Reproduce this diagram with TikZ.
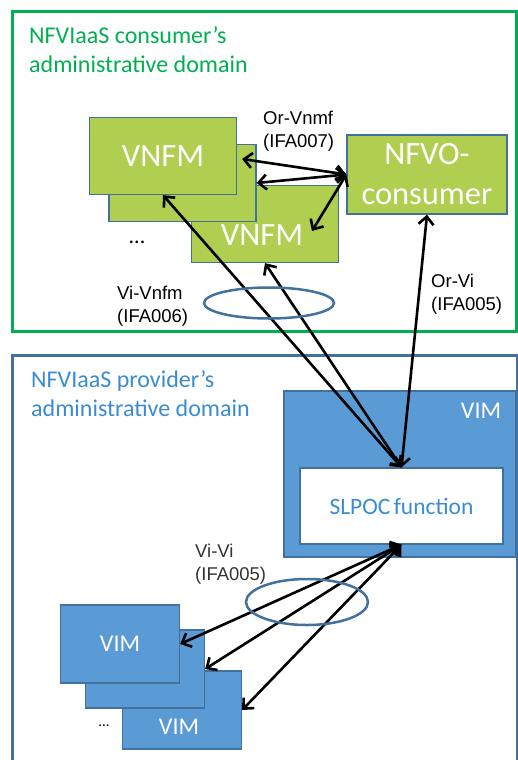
\documentclass[tikz,border=0pt]{standalone}
\usepackage{fontspec}
\setmainfont{Carlito}
\newfontfamily\ifacefont{Liberation Sans}
\usetikzlibrary{arrows.meta,calc,positioning}

\definecolor{consgreen}{RGB}{0,176,80}
\definecolor{vnfmfill}{RGB}{176,206,80}
\definecolor{vimfill}{RGB}{91,155,213}
\definecolor{vimedge}{RGB}{65,113,156}
\definecolor{provblue}{RGB}{58,140,210}

\tikzset{
  vnfmbox/.style={draw=vimedge, line width=1.3pt, fill=vnfmfill, text=white,
    font=\fontsize{32.5}{40}\selectfont, inner sep=0pt,
    minimum width=147pt, minimum height=77pt},
  vimbox/.style={draw=vimedge, line width=1.3pt, fill=vimfill, text=white,
    font=\fontsize{24}{28}\selectfont, inner sep=0pt,
    minimum width=119pt, minimum height=78pt},
  boxtext/.style={text=white, inner sep=0pt},
  title/.style={anchor=north west, align=left, inner sep=0pt,
    font=\fontsize{24}{29}\selectfont},
  iflabel/.style={font=\ifacefont\fontsize{18.5}{23}\selectfont, align=left,
    anchor=west, inner sep=0pt},
  link/.style={line width=2.6pt,
    {Straight Barb[length=8pt,width=15pt]}-{Straight Barb[length=8pt,width=15pt]}},
  group/.style={draw=vimedge, line width=2.5pt},
}

\begin{document}
\begin{tikzpicture}[x=1pt,y=-1pt]
    \useasboundingbox (0,0) rectangle (518,760);
    % Consumer domain
    \draw [consgreen, line width=3pt] (12,12) rectangle (516,331);
    \node [title, text=consgreen] (consTitle) at (29,26) {NFVIaaS consumer’s\\administrative domain};
    % VNFMs, back to front
    \node [vnfmbox] (vnfmC) at (265,224) {};
    \node [boxtext, font=\fontsize{32.5}{40}\selectfont] (vnfmCtext) at (262,235) {VNFM};
    \node [vnfmbox] (vnfmB) at (182.5,183) {};
    \node [vnfmbox] (vnfmA) at (163,156) {VNFM};
    \node [font=\fontsize{22}{26}\selectfont, inner sep=0pt] (dotsTop) at (137,242) {...};
    % NFVO
    \node [vnfmbox, minimum width=160pt, minimum height=79pt, align=center] (nfvo) at (427,174.5) {NFVO-\\consumer};
    % Interface labels
    \node [iflabel] (orVnfm) at (263,131.5) {Or-Vnmf\\(IFA007)};
    \node [iflabel] (orVi) at (431,294) {Or-Vi\\(IFA005)};
    \node [iflabel] (viVnfm) at (117,306) {Vi-Vnfm\\(IFA006)};

    % Provider domain
    \draw [vimedge, line width=3pt] (12,355) rectangle (517,775);
    \node [title, text=provblue] (provTitle) at (31,370) {NFVIaaS provider’s\\administrative domain};
    % VIM with SLPOC
    \node [vimbox, minimum width=232pt, minimum height=166pt] (vim) at (400,474) {};
    \node [boxtext, font=\fontsize{24}{28}\selectfont] (vimTitle) at (481,411) {VIM};
    \node [draw=vimedge, line width=1.3pt, fill=white, minimum width=203pt, minimum height=76pt,
      text=provblue, font=\fontsize{23.5}{28}\selectfont] (slpoc) at (401.5,506) {SLPOC\hspace{-2pt} function};
    % other VIMs, back to front
    \node [vimbox] (vimC) at (182,710) {};
    \node [boxtext, font=\fontsize{24}{28}\selectfont] (vimCtext) at (179,727) {VIM};
    \node [vimbox] (vimB) at (145,669) {};
    \node [vimbox] (vimA) at (120,644) {VIM};
    \node [font=\fontsize{15}{18}\selectfont, inner sep=0pt] (dotsBottom) at (104,726) {...};
    \node [iflabel, text=black!80] (viVi) at (195,564) {Vi-Vi\\(IFA005)};

    % Or-Vnfm
    \draw [link] (nfvo.west) -- ($(vnfmA.east)+(5,3)$);
    \draw [link] (nfvo.west) -- (vnfmB.east);
    \draw [link] (nfvo.west) -- ($(vnfmC.center)+(47,7)$);
    % Vi-Vnfm and Or-Vi
    \draw [link] (slpoc.north) -- (vnfmA.south);
    \draw [link] (slpoc.north) -- (vnfmC.south);
    \draw [link] (slpoc.north) -- (nfvo.south);
    % Vi-Vi
    \draw [link] (slpoc.south) -- (vimA.east);
    \draw [link] (slpoc.south) -- (vimB.east);
    \draw [link] (slpoc.south) -- (vimC.east);
    % groupings
    \draw [group] (269,303) ellipse [x radius=65, y radius=15.5];
    \draw [group] (307,602) ellipse [x radius=61, y radius=23];
\end{tikzpicture}
\end{document}
